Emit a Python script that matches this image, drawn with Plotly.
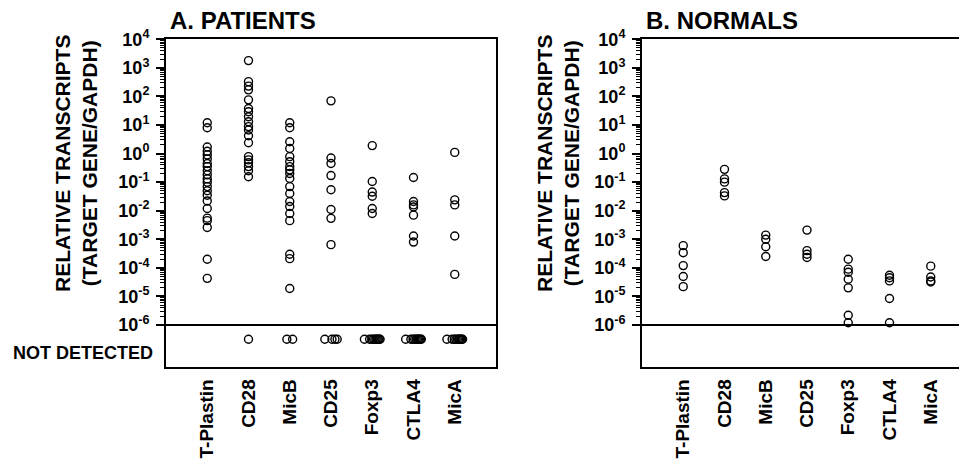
import numpy as np
import plotly.graph_objects as go

# ---------------- data ----------------
genes = ["T-Plastin", "CD28", "MicB", "CD25", "Foxp3", "CTLA4", "MicA"]

# Patients (detected values, relative transcripts)
tplastin_p = [12, 8, 1.7, 1.2, 0.9, 0.65, 0.45, 0.35, 0.25, 0.18, 0.13, 0.1, 0.07,
              0.05, 0.035, 0.022, 0.012, 0.0055, 0.0045, 0.0026, 2e-4, 4.3e-5]
cd28_p = [1800, 330, 230, 170, 76, 38, 29, 19.5, 13, 8.8, 6.7, 4.2, 2.4,
          0.78, 0.6, 0.48, 0.35, 0.25, 0.155]
micb_p = [12, 8, 2.6, 1.5, 0.78, 0.52, 0.35, 0.27, 0.2, 0.135, 0.07, 0.04,
          0.021, 0.014, 0.008, 0.0045, 3e-4, 2.1e-4, 1.9e-5]
cd25_p = [70, 0.7, 0.45, 0.17, 0.054, 0.011, 0.0054, 6.5e-4]
foxp3_p = [1.9, 0.105, 0.045, 0.032, 0.012, 0.008]
ctla4_p = [0.145, 0.021, 0.016, 0.0135, 0.007, 0.0013, 8e-4]
mica_p = [1.1, 0.024, 0.016, 0.0013, 5.9e-5]

# Normals
tplastin_n = [6e-4, 3.4e-4, 1.2e-4, 5e-5, 2.2e-5]
cd28_n = [0.28, 0.13, 0.1, 0.043, 0.033]
micb_n = [1.4e-3, 1.0e-3, 5.5e-4, 2.5e-4]
cd25_n = [2.1e-3, 4e-4, 3e-4, 2.3e-4]
foxp3_n = [2e-4, 9e-5, 7e-5, 4e-5, 2e-5, 2.2e-6, 1.2e-6]
ctla4_n = [5.5e-5, 4.5e-5, 3.5e-5, 8.5e-6, 1.2e-6]
mica_n = [1.15e-4, 4.8e-5, 3.5e-5, 3.2e-5]

# Number of "not detected" samples per gene
nd_patients = [0, 1, 2, 4, 10, 10, 10]
nd_normals = [0, 0, 0, 0, 0, 0, 0]

# y tick labels (decades)
ytick_exps = [-6, -5, -4, -3, -2, -1, 0, 1, 2, 3, 4]
ND_LEVEL = 10 ** -6.5   # plotting level for "not detected"

patients = [tplastin_p, cd28_p, micb_p, cd25_p, foxp3_p, ctla4_p, mica_p]
normals = [tplastin_n, cd28_n, micb_n, cd25_n, foxp3_n, ctla4_n, mica_n]

# ---------------- figure ----------------
VIEW_W, VIEW_H = 967, 470
OFF = 8                      # page body margin
W, H = VIEW_W - OFF, VIEW_H - OFF
FONT = "Liberation Sans, Arial, Helvetica, sans-serif"


def px_x(p):
    return (p - OFF) / W


def px_y(p):
    return 1 - (p - OFF) / H


def nd_offsets(n):
    if n <= 0:
        return []
    if n == 1:
        return [0.0]
    h = min(0.04 * (n - 1) + 0.03, 0.19)
    return [-h + 2 * h * (k / (n - 1)) ** 0.5 for k in range(n)]


def build(values, nd_counts):
    xs, ys = [], []
    for i, vals in enumerate(values):
        for v in vals:
            xs.append(i + 1)
            ys.append(v)
        for off in nd_offsets(nd_counts[i]):
            xs.append(i + 1 + off)
            ys.append(ND_LEVEL)
    return xs, ys


marker = dict(symbol="circle-open", size=8, color="black", line=dict(width=1.4, color="black"))

fig = go.Figure()
xa, ya = build(patients, nd_patients)
fig.add_trace(go.Scatter(x=xa, y=ya, mode="markers", marker=marker, xaxis="x", yaxis="y",
                         showlegend=False, cliponaxis=False))
xb, yb = build(normals, nd_normals)
fig.add_trace(go.Scatter(x=xb, y=yb, mode="markers", marker=marker, xaxis="x2", yaxis="y2",
                         showlegend=False, cliponaxis=False))

ytickvals = [10.0 ** e for e in ytick_exps]
yticktext = ["10<sup>%d</sup>" % e for e in ytick_exps]
minor_vals = [m * 10.0 ** e for e in ytick_exps[:-1] for m in range(2, 10)]

ytickfont = dict(family=FONT, size=18, color="black", weight="bold")
xtickfont = dict(family=FONT, size=19, color="black", weight="bold")

y_top, y_bot = 39.3, 366.7
dec_px = (325.0 - 39.3) / 10.0
y_range = [4 - (y_bot - y_top) / dec_px, 4]
unit_px = 41.25


def xaxis_cfg(left, right):
    right_vis = min(right, VIEW_W)
    return dict(domain=[px_x(left), min(px_x(right_vis), 1.0)],
                range=[0, (right_vis - left) / unit_px], automargin=False,
                tickmode="array", tickvals=list(range(1, 8)), ticktext=genes,
                tickangle=-90, tickfont=xtickfont, ticks="", ticklabelstandoff=3,
                showline=True, linewidth=2, linecolor="black", mirror=True,
                showgrid=False, zeroline=False, fixedrange=True)


def yaxis_cfg(anchor, mirror):
    return dict(type="log", domain=[px_y(y_bot), px_y(y_top)], range=y_range,
                anchor=anchor, automargin=False,
                tickmode="array", tickvals=ytickvals, ticktext=yticktext,
                ticks="outside", ticklen=8, tickwidth=1.5, tickcolor="black",
                ticklabelstandoff=3,
                tickfont=ytickfont, showline=True, linewidth=2, linecolor="black",
                mirror=mirror, showgrid=False, zeroline=False,
                minor=dict(tickmode="array", tickvals=minor_vals, ticks="outside",
                           ticklen=4, tickwidth=1, tickcolor="black", showgrid=False))


xa_cfg = xaxis_cfg(166, 496)
xa_cfg["anchor"] = "y"
xb_cfg = xaxis_cfg(642, 642 + 8 * unit_px)
xb_cfg["anchor"] = "y2"

fig.update_layout(
    width=W, height=H, autosize=False,
    margin=dict(l=0, r=0, t=0, b=0, pad=0),
    paper_bgcolor="white", plot_bgcolor="white",
    font=dict(family=FONT, color="black"),
    xaxis=xa_cfg,
    yaxis=yaxis_cfg("x", True),
    xaxis2=xb_cfg,
    yaxis2=yaxis_cfg("x2", False),
    shapes=[
        dict(type="line", xref="x domain", yref="y", x0=0, x1=1, y0=1e-6, y1=1e-6,
             line=dict(color="black", width=2)),
        dict(type="line", xref="x2 domain", yref="y2", x0=0, x1=1, y0=1e-6, y1=1e-6,
             line=dict(color="black", width=2)),
    ],
)

title_font = dict(family=FONT, size=24, color="black", weight="bold")
ytitle_font = dict(family=FONT, size=21, color="black", weight="bold")
ytitle = "RELATIVE TRANSCRIPTS<br>(TARGET GENE/GAPDH)"

annotations = [
    dict(text="A. PATIENTS", x=px_x(168), y=px_y(21), xref="paper", yref="paper",
         xanchor="left", yanchor="middle", showarrow=False, font=title_font),
    dict(text="B. NORMALS", x=px_x(644), y=px_y(21), xref="paper", yref="paper",
         xanchor="left", yanchor="middle", showarrow=False, font=title_font),
    dict(text=ytitle, x=px_x(76), y=px_y(164), xref="paper", yref="paper",
         xanchor="center", yanchor="middle", textangle=-90, showarrow=False,
         font=ytitle_font),
    dict(text=ytitle, x=px_x(558), y=px_y(164), xref="paper", yref="paper",
         xanchor="center", yanchor="middle", textangle=-90, showarrow=False,
         font=ytitle_font),
    dict(text="NOT DETECTED", x=px_x(155), y=px_y(353), xref="paper", yref="paper",
         xanchor="right", yanchor="middle", showarrow=False,
         font=dict(family=FONT, size=18, color="black", weight="bold")),
]
fig.update_layout(annotations=annotations)

fig.write_html("out.html")
